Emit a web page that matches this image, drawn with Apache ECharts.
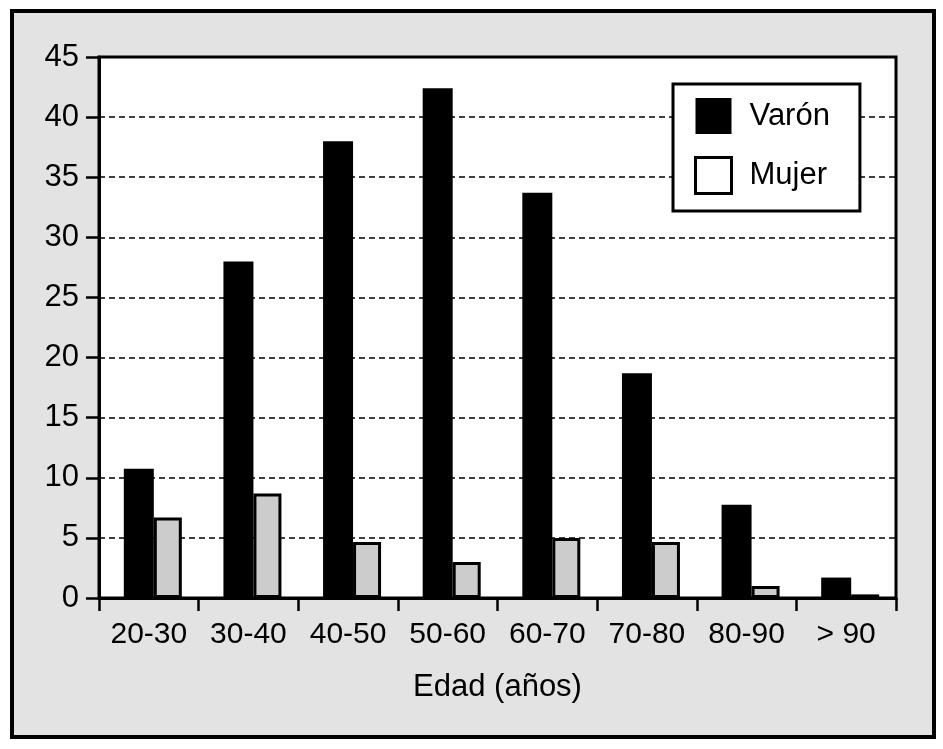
<!DOCTYPE html>
<html>
<head>
<meta charset="utf-8">
<script src="https://cdn.jsdelivr.net/npm/echarts@6/dist/echarts.min.js"></script>
<style>
html,body{margin:0;padding:0;background:#fff;}
#c{width:943px;height:749px;}
</style>
</head>
<body>
<div id="c"></div>
<script>
var categories = ['20-30','30-40','40-50','50-60','60-70','70-80','80-90','> 90'];
var varon = [10.75, 28.0, 38.0, 42.4, 33.7, 18.7, 7.75, 1.7];
var mujer = [6.7, 8.7, 4.65, 3.0, 5.0, 4.65, 1.0, 0.3];
var seriesNames = ['Varón', 'Mujer'];
var axisName = 'Edad (años)';

var FONT = 'Liberation Sans, Arial, sans-serif';
var chart = echarts.init(document.getElementById('c'));
chart.setOption({
  animation: false,
  backgroundColor: '#fff',
  textStyle: { fontFamily: FONT },
  graphic: [{
    type: 'rect', z: -10, silent: true,
    shape: { x: 12, y: 11, width: 922, height: 726 },
    style: { fill: '#e3e3e3', stroke: '#000', lineWidth: 4 }
  }],
  grid: {
    left: 99, right: 47, top: 57, bottom: 151,
    show: true, backgroundColor: '#fff', borderColor: '#000', borderWidth: 3
  },
  legend: {
    orient: 'vertical',
    left: 673, top: 84,
    itemWidth: 36, itemHeight: 36, itemGap: 22,
    padding: [14, 30, 16, 21],
    backgroundColor: '#fff', borderColor: '#000', borderWidth: 3,
    icon: 'rect',
    textStyle: { fontSize: 31, color: '#000', fontFamily: FONT, padding: [0, 0, 0, 13] },
    data: [
      { name: seriesNames[0], itemStyle: { color: '#000', borderWidth: 0 } },
      { name: seriesNames[1], itemStyle: { color: '#fff', borderColor: '#000', borderWidth: 3 } }
    ]
  },
  xAxis: {
    type: 'category',
    data: categories,
    name: axisName,
    nameLocation: 'middle',
    nameGap: 74,
    nameTextStyle: { fontSize: 31, color: '#000', fontFamily: FONT },
    axisLine: { lineStyle: { color: '#000', width: 3 } },
    axisTick: { show: true, length: 13, lineStyle: { color: '#000', width: 2.5 } },
    axisLabel: { fontSize: 30, color: '#000', margin: 22, interval: 0, fontFamily: FONT },
    splitLine: { show: false }
  },
  yAxis: {
    type: 'value',
    min: 0, max: 45, interval: 5,
    axisLine: { show: true, lineStyle: { color: '#000', width: 3 } },
    axisTick: { show: true, length: 13, lineStyle: { color: '#000', width: 2.5 } },
    axisLabel: { fontSize: 31, color: '#000', margin: 20, fontFamily: FONT },
    splitLine: { show: true, lineStyle: { color: '#000', width: 1.5, type: [6, 4] } }
  },
  series: [
    {
      name: '_spacer', type: 'bar', data: [],
      barWidth: 8, barGap: 0, silent: true
    },
    {
      name: seriesNames[0], type: 'bar', data: varon,
      barWidth: 30, barGap: 0,
      itemStyle: { color: '#000' }
    },
    {
      name: seriesNames[1], type: 'bar', data: mujer,
      barWidth: 28, barGap: 0,
      itemStyle: { color: '#cccccc', borderColor: '#000', borderWidth: 3 }
    }
  ]
});
</script>
</body>
</html>
